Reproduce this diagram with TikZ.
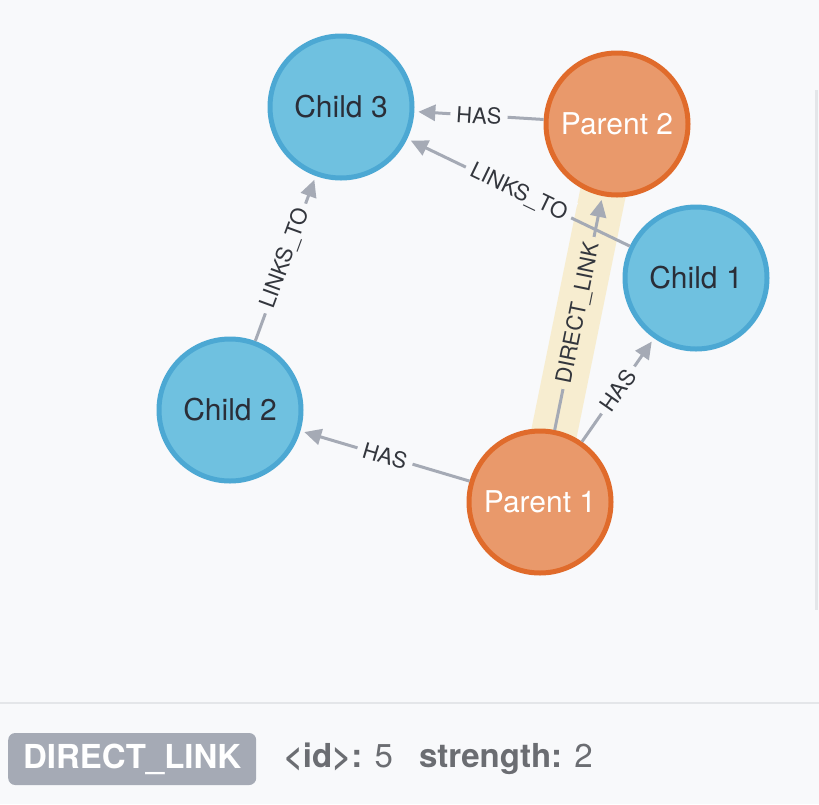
\documentclass[tikz,border=0pt]{standalone}
\usepackage{fontspec}
\setmainfont{TeX Gyre Heros}
\usetikzlibrary{arrows.meta,backgrounds}

\definecolor{canvas}{HTML}{F8F9FB}
\definecolor{childfill}{HTML}{6FC1E0}
\definecolor{childline}{HTML}{4CA8D3}
\definecolor{childtext}{HTML}{2A2E38}
\definecolor{parentfill}{HTML}{E9996B}
\definecolor{parentline}{HTML}{E06B2B}
\definecolor{relgray}{HTML}{A5AAB5}
\definecolor{reltext}{HTML}{33363D}
\definecolor{hilite}{HTML}{F7EDD0}
\definecolor{proptext}{HTML}{6B6D72}
\definecolor{rulegray}{HTML}{E4E6E9}

\newcommand{\circlefont}{\fontsize{30}{32}\selectfont}
\newcommand{\relfont}{\fontsize{22}{24}\selectfont}
\newcommand{\propfont}{\fontsize{33}{35}\selectfont}

\begin{document}
\begin{tikzpicture}[
    x=1pt, y=-1pt,
    child/.style={
        circle,
        draw=childline,
        fill=childfill,
        line width=5pt,
        minimum size=142pt,
        text=childtext,
        font=\circlefont
    },
    parent/.style={child, draw=parentline, fill=parentfill, text=white},
    rel/.style={draw=relgray, line width=3pt,
        -{Triangle[length=17pt,width=16pt]}, shorten >=4pt},
    rellabel/.style={fill=canvas, inner sep=6pt, sloped, font=\relfont, text=reltext},
    badge/.style={fill=relgray, rounded corners=7pt, text=white,
        font=\propfont\bfseries, minimum width=248pt, minimum height=52pt}
]

\useasboundingbox (0,0) rectangle (819,804);

% ============================================================
% NODES
% ============================================================
\node[child] (child3) at (341,107) {Child 3};
\node[parent] (parent2) at (617,124) {Parent 2};
\node[child] (child1) at (696,278) {Child 1};
\node[child] (child2) at (230,410) {Child 2};
\node[parent] (parent1) at (540,502) {Parent 1};

% ============================================================
% BACKGROUND, SELECTED RELATIONSHIP
% ============================================================
\begin{pgfonlayer}{background}
    \fill[canvas] (0,0) rectangle (819,804);
    \draw[hilite, line width=46pt] (parent1.center) -- (parent2.center);
    \draw[rulegray, line width=3pt] (816.5,90) -- (816.5,610);
    \draw[rulegray, line width=2pt] (0,702.5) -- (819,702.5);
\end{pgfonlayer}

% ============================================================
% RELATIONSHIPS
% ============================================================
\draw[rel] (parent2) -- node[rellabel] {HAS} (child3);
\draw[rel] (child1) -- node[rellabel] {LINKS\_TO} (child3);
\draw[rel] (child2) -- node[rellabel] {LINKS\_TO} (child3);
\draw[rel] (parent1) -- node[rellabel] {HAS} (child2);
\draw[rel] (parent1) -- node[rellabel] {HAS} (child1);
\draw[rel] (parent1) -- node[rellabel, fill=hilite] {DIRECT\_LINK} (parent2);

% ============================================================
% PROPERTIES
% ============================================================
\node[badge, anchor=west] (reltype) at (8,759) {DIRECT\_LINK};
\node[anchor=west, text=proptext, font=\propfont, inner sep=0pt]
    (relprops) at ([xshift=27pt]reltype.east)
    {\textbf{<id>:} 5\hspace{26pt}\textbf{strength:} 2};

\end{tikzpicture}
\end{document}
